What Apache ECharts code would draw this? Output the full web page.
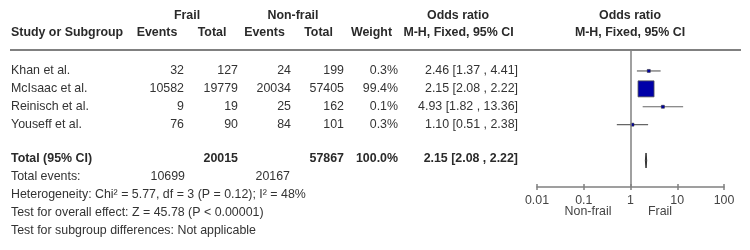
<!DOCTYPE html>
<html><head><meta charset="utf-8">
<script src="https://cdn.jsdelivr.net/npm/echarts@6/dist/echarts.min.js"></script>
<style>html,body{margin:0;padding:0;background:#fff}#c{width:750px;height:250px}</style>
</head><body><div id="c"></div>
<script>
// ---- data ----
const studies = ['Khan et al.', 'McIsaac et al.', 'Reinisch et al.', 'Youseff et al.'];
const frailEvents = [32, 10582, 9, 76];
const frailTotal = [127, 19779, 19, 90];
const nonfrailEvents = [24, 20034, 25, 84];
const nonfrailTotal = [199, 57405, 162, 101];
const weights = [0.3, 99.4, 0.1, 0.3];
const oddsRatio = [2.46, 2.15, 4.93, 1.10];
const ciLow = [1.37, 2.08, 1.82, 0.51];
const ciHigh = [4.41, 2.22, 13.36, 2.38];
const totalLabel = 'Total (95% CI)';
const totalFrail = 20015;
const totalNonfrail = 57867;
const totalWeight = 100.0;
const totalOR = 2.15, totalLow = 2.08, totalHigh = 2.22;
const totalEventsFrail = 10699, totalEventsNonfrail = 20167;
const footerLines = [
  'Heterogeneity: Chi\u00b2 = 5.77, df = 3 (P = 0.12); I\u00b2 = 48%',
  'Test for overall effect: Z = 45.78 (P < 0.00001)',
  'Test for subgroup differences: Not applicable'
];
const tickLabels = ['0.01', '0.1', '1', '10', '100'];
const favourLabels = ['Non-frail', 'Frail'];

// ---- layout / style ----
const FONT = '"Liberation Sans", Arial, sans-serif';
const TXT = '#333';
const HDR = '#2a2a2a';
const LINE = '#808080';
const FS = 12.4;
const COL = { study: 11, fe: 184, ft: 238, ne: 291, nt: 344, w: 398, or: 518 };
const TOTAL_ROW = 5;

function fmtOR(o, l, h) { return o.toFixed(2) + ' [' + l.toFixed(2) + ' , ' + h.toFixed(2) + ']'; }
function txt(x, y, s, align, bold, color) {
  return { type: 'text', x: x, y: y, silent: true,
    style: { text: s, textAlign: align || 'left', textVerticalAlign: 'middle',
      font: (bold ? 'bold ' : '') + FS + 'px ' + FONT, fill: color || (bold ? HDR : TXT) } };
}

const studyData = studies.map((s, i) => [oddsRatio[i], i, ciLow[i], ciHigh[i], weights[i], i]);
const maxW = Math.max.apply(null, weights);

const chart = echarts.init(document.getElementById('c'), null, { renderer: 'canvas' });

const option = {
  animation: false,
  backgroundColor: '#fff',
  grid: { left: 537, right: 26, top: 50, bottom: 63, containLabel: false },
  xAxis: [{
    type: 'log', logBase: 10, min: 0.01, max: 100,
    axisLine: { show: true, onZero: false, lineStyle: { color: LINE, width: 1.5 } },
    axisTick: { show: true, inside: false, length: 3, lineStyle: { color: LINE, width: 1.5 } },
    axisLabel: { margin: 8, color: '#444', fontFamily: FONT, fontSize: FS,
      formatter: (v, idx) => tickLabels[idx] },
    splitLine: { show: false }
  }, {
    type: 'log', logBase: 10, min: 0.01, max: 100, position: 'bottom',
    axisLine: { show: false, onZero: false },
    axisTick: { show: true, inside: true, length: 3, lineStyle: { color: LINE, width: 1.5 } },
    axisLabel: { show: false }, splitLine: { show: false }
  }],
  yAxis: { type: 'value', inverse: true, min: -1.17, max: 6.48, show: false },
  series: [{
    type: 'custom', clip: false, xAxisIndex: 0,
    data: studyData,
    renderItem: function (params, api) {
      const i = api.value(5);
      const row = api.value(1);
      const pc = api.coord([api.value(0), row]);
      const pl = api.coord([api.value(2), row]);
      const ph = api.coord([api.value(3), row]);
      const ty = pc[1] - 0.5;
      const size = Math.max(3, 16 * Math.sqrt(api.value(4) / maxW));
      return { type: 'group', children: [
        { type: 'line', shape: { x1: pl[0], y1: pc[1], x2: ph[0], y2: pc[1] },
          style: { stroke: '#666', lineWidth: 1.2 } },
        { type: 'rect', shape: { x: pc[0] - size / 2, y: pc[1] - size / 2, width: size, height: size },
          style: { fill: '#0000a8', stroke: size > 5 ? '#555' : '#222', lineWidth: size > 5 ? 0.8 : 0.5 } },
        txt(COL.study, ty, studies[i], 'left'),
        txt(COL.fe, ty, String(frailEvents[i]), 'right'),
        txt(COL.ft, ty, String(frailTotal[i]), 'right'),
        txt(COL.ne, ty, String(nonfrailEvents[i]), 'right'),
        txt(COL.nt, ty, String(nonfrailTotal[i]), 'right'),
        txt(COL.w, ty, weights[i].toFixed(1) + '%', 'right'),
        txt(COL.or, ty, fmtOR(oddsRatio[i], ciLow[i], ciHigh[i]), 'right')
      ] };
    },
    markLine: { silent: true, symbol: 'none', animation: false,
      label: { show: false },
      lineStyle: { color: LINE, width: 1.5, type: 'solid' },
      data: [{ xAxis: 1 }] }
  }, {
    type: 'custom', clip: false, xAxisIndex: 0,
    data: [[totalOR, TOTAL_ROW, totalLow, totalHigh]],
    renderItem: function (params, api) {
      const row = api.value(1);
      const pc = api.coord([api.value(0), row]);
      const pl = api.coord([api.value(2), row]);
      const ph = api.coord([api.value(3), row]);
      const h = 7.5;
      const ty = pc[1] - 2;
      return { type: 'group', children: [
        { type: 'polygon', shape: { points: [[pl[0], pc[1]], [pc[0], pc[1] - h], [ph[0], pc[1]], [pc[0], pc[1] + h]] },
          style: { fill: '#222', stroke: '#333', lineWidth: 1 } },
        txt(COL.study, ty, totalLabel, 'left', true),
        txt(COL.ft, ty, String(totalFrail), 'right', true),
        txt(COL.nt, ty, String(totalNonfrail), 'right', true),
        txt(COL.w, ty, totalWeight.toFixed(1) + '%', 'right', true),
        txt(COL.or, ty, fmtOR(totalOR, totalLow, totalHigh), 'right', true)
      ] };
    }
  }],
  graphic: [
    { type: 'line', silent: true, shape: { x1: 10, y1: 50, x2: 741, y2: 50 }, style: { stroke: LINE, lineWidth: 2 } },
    txt(187, 16, 'Frail', 'center', true),
    txt(293, 16, 'Non-frail', 'center', true),
    txt(458, 16, 'Odds ratio', 'center', true),
    txt(630, 16, 'Odds ratio', 'center', true),
    txt(COL.study, 33, 'Study or Subgroup', 'left', true),
    txt(157, 33, 'Events', 'center', true),
    txt(212, 33, 'Total', 'center', true),
    txt(264.5, 33, 'Events', 'center', true),
    txt(318.5, 33, 'Total', 'center', true),
    txt(371.5, 33, 'Weight', 'center', true),
    txt(458.5, 33, 'M-H, Fixed, 95% CI', 'center', true),
    txt(630, 33, 'M-H, Fixed, 95% CI', 'center', true),
    txt(COL.study, 177, 'Total events:', 'left'),
    txt(COL.fe + 1, 177, String(totalEventsFrail), 'right'),
    txt(COL.ne - 1, 177, String(totalEventsNonfrail), 'right'),
    txt(COL.study, 195, footerLines[0], 'left'),
    txt(COL.study, 212.5, footerLines[1], 'left'),
    txt(COL.study, 231, footerLines[2], 'left'),
    txt(588, 212, favourLabels[0], 'center', false, '#444'),
    txt(660, 212, favourLabels[1], 'center', false, '#444')
  ]
};
chart.setOption(option);
</script></body></html>
